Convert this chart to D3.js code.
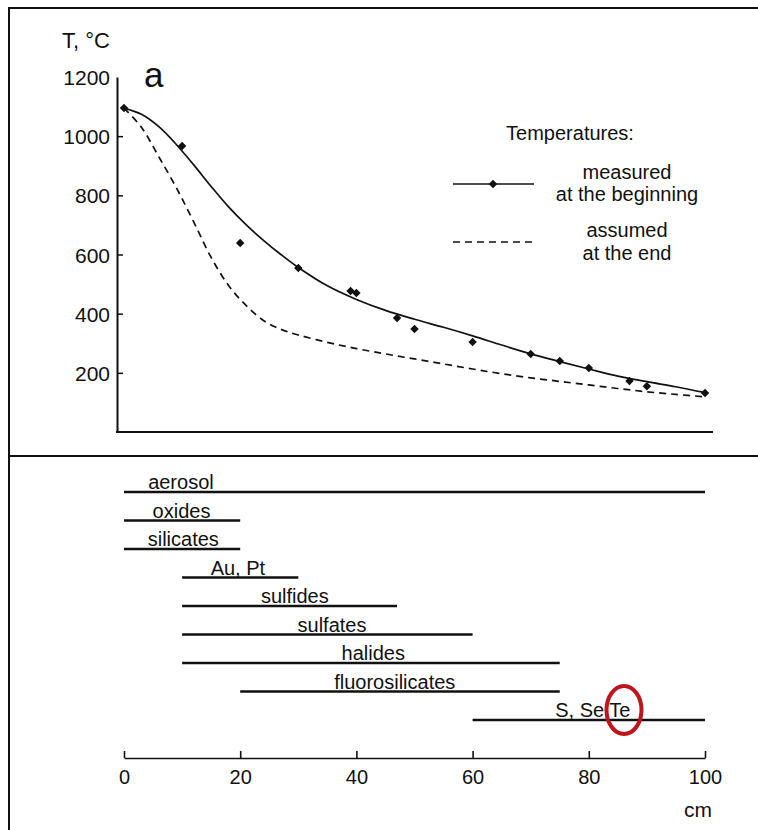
<!DOCTYPE html>
<html>
<head>
<meta charset="utf-8">
<script src="https://cdn.jsdelivr.net/npm/d3@7"></script>
<style>
  body { margin: 0; background: #fff; }
  text { font-family: "Liberation Sans", Arial, sans-serif; fill: #111; }
  .axis path, .axis line { stroke: #111; }
  .axis text { font-size: 20px; font-family: "Liberation Sans", Arial, sans-serif; fill: #111; }
</style>
</head>
<body>
<script>
// distance along the column, cm
var measuredCm = [0, 10, 20, 30, 39, 40, 47, 50, 60, 70, 75, 80, 87, 90, 100];
var measuredT  = [1095, 967, 639, 554, 477, 470, 385, 348, 304, 264, 240, 216, 172, 155, 132];

// smooth curve through the measured points
var fitCm = [0, 3, 6, 9, 12, 15, 18, 21, 24, 27, 30, 35, 40, 45, 50, 55, 60, 65, 70, 75, 80, 85, 90, 95, 100];
var fitT  = [1095, 1074, 1032, 972, 903, 830, 761, 701, 648, 600, 556, 494, 448, 411, 381, 354, 325, 294, 264, 238, 213, 189, 170, 153, 133];

// assumed temperatures at the end
var endCm = [0, 3, 6, 9, 12, 15, 18, 21, 24, 27, 30, 35, 40, 45, 50, 55, 60, 65, 70, 75, 80, 85, 90, 95, 100];
var endT  = [1095, 1030, 930, 826, 710, 590, 495, 428, 377, 347, 328, 303, 282, 264, 247, 230, 213, 197, 183, 171, 159, 147, 136, 127, 119];

var yTicks = [200, 400, 600, 800, 1000, 1200];
var xTicks = [0, 20, 40, 60, 80, 100];

// deposition ranges of the phases (cm)
var phases    = ["aerosol", "oxides", "silicates", "Au, Pt", "sulfides", "sulfates", "halides", "fluorosilicates", "S, Se Te"];
var phaseFrom = [0, 0, 0, 10, 10, 10, 10, 20, 60];
var phaseTo   = [100, 20, 20, 30, 47, 60, 75, 75, 100];
var phaseLabelAt = [9.8, 9.9, 10.2, 19.6, 29.4, 35.8, 42.9, 46.6, 80.7];

var width = 758, height = 830;

var svg = d3.select("body").append("svg")
    .attr("width", width)
    .attr("height", height);

svg.append("rect").attr("width", width).attr("height", height).attr("fill", "#fff");

// frame round the two panels
svg.append("path")
    .attr("d", "M9,830V8H758M9,456H758")
    .attr("fill", "none")
    .attr("stroke", "#111")
    .attr("stroke-width", 2);

var x = d3.scaleLinear().domain([0, 100]).range([124, 705]);
var y = d3.scaleLinear().domain([0, 1200]).range([432, 77]);

// ---- top panel: temperatures ----
var yAxis = svg.append("g")
    .attr("class", "axis")
    .attr("transform", "translate(117,0)")
    .call(d3.axisLeft(y).tickValues(yTicks).tickFormat(d3.format("d"))
      .tickSizeInner(-6).tickSizeOuter(0).tickPadding(7));
yAxis.select(".domain").attr("stroke-width", 2);
yAxis.selectAll(".tick line").attr("stroke-width", 1.5)
    .filter(function(d) { return d == 1200; }).remove();
yAxis.selectAll(".tick text").attr("dy", "0.36em").style("font-size", "21px");

svg.append("line")
    .attr("x1", 116).attr("x2", 713)
    .attr("y1", y(0)).attr("y2", y(0))
    .attr("stroke", "#111")
    .attr("stroke-width", 2);

svg.append("text")
    .attr("x", 62).attr("y", 48)
    .style("font-size", "22px")
    .text("T, °C");

svg.append("text")
    .attr("x", 144).attr("y", 87)
    .style("font-size", "35px")
    .text("a");

var line = d3.line()
    .x(function(d) { return x(d[0]); })
    .y(function(d) { return y(d[1]); })
    .curve(d3.curveCatmullRom.alpha(0.5));

svg.append("path")
    .datum(d3.zip(fitCm, fitT))
    .attr("d", line)
    .attr("fill", "none")
    .attr("stroke", "#111")
    .attr("stroke-width", 1.7);

svg.append("path")
    .datum(d3.zip(endCm, endT))
    .attr("d", line)
    .attr("fill", "none")
    .attr("stroke", "#111")
    .attr("stroke-width", 1.7)
    .attr("stroke-dasharray", "7,5");

var diamond = d3.symbol().type(d3.symbolSquare).size(36);

svg.selectAll(".pt")
    .data(d3.zip(measuredCm, measuredT))
  .enter().append("path")
    .attr("class", "pt")
    .attr("d", diamond)
    .attr("fill", "#111")
    .attr("transform", function(d) { return "translate(" + x(d[0]) + "," + y(d[1]) + ")rotate(45)"; });

// legend
var legend = svg.append("g").style("font-size", "20px");
legend.append("text").attr("x", 570).attr("y", 140).attr("text-anchor", "middle").text("Temperatures:");
legend.append("line").attr("x1", 453).attr("x2", 534).attr("y1", 184).attr("y2", 184)
    .attr("stroke", "#111").attr("stroke-width", 1.7);
legend.append("path").attr("d", diamond).attr("fill", "#111")
    .attr("transform", "translate(493,184)rotate(45)");
legend.append("text").attr("x", 627).attr("y", 179).attr("text-anchor", "middle").text("measured");
legend.append("text").attr("x", 627).attr("y", 201).attr("text-anchor", "middle").text("at the beginning");
legend.append("line").attr("x1", 453).attr("x2", 534).attr("y1", 242).attr("y2", 242)
    .attr("stroke", "#111").attr("stroke-width", 1.7).attr("stroke-dasharray", "7,5");
legend.append("text").attr("x", 627).attr("y", 237).attr("text-anchor", "middle").text("assumed");
legend.append("text").attr("x", 627).attr("y", 260).attr("text-anchor", "middle").text("at the end");

// ---- bottom panel: phase ranges ----
var row = d3.scalePoint().domain(phases).range([492, 720]);

var ranges = svg.selectAll(".range")
    .data(phases)
  .enter().append("g")
    .attr("class", "range");

ranges.append("line")
    .attr("x1", function(d, i) { return x(phaseFrom[i]); })
    .attr("x2", function(d, i) { return x(phaseTo[i]); })
    .attr("y1", function(d) { return row(d); })
    .attr("y2", function(d) { return row(d); })
    .attr("stroke", "#111")
    .attr("stroke-width", 2.5);

ranges.append("text")
    .attr("x", function(d, i) { return x(phaseLabelAt[i]); })
    .attr("y", function(d) { return row(d) - 3; })
    .attr("text-anchor", "middle")
    .style("font-size", "20px")
    .text(function(d) { return d; });

var xAxis = svg.append("g")
    .attr("class", "axis")
    .attr("transform", "translate(0,758)")
    .call(d3.axisBottom(x).tickValues(xTicks).tickSizeInner(-7).tickSizeOuter(0).tickPadding(12));
xAxis.select(".domain").attr("stroke-width", 1.6);
xAxis.selectAll(".tick line").attr("stroke-width", 1.6);

svg.append("text")
    .attr("x", 712).attr("y", 817)
    .attr("text-anchor", "end")
    .style("font-size", "21px")
    .text("cm");

// red mark round Te
svg.append("ellipse")
    .attr("cx", 624).attr("cy", 710)
    .attr("rx", 17.5).attr("ry", 24)
    .attr("fill", "none")
    .attr("stroke", "#c0141c")
    .attr("stroke-width", 4);
</script>
</body>
</html>
